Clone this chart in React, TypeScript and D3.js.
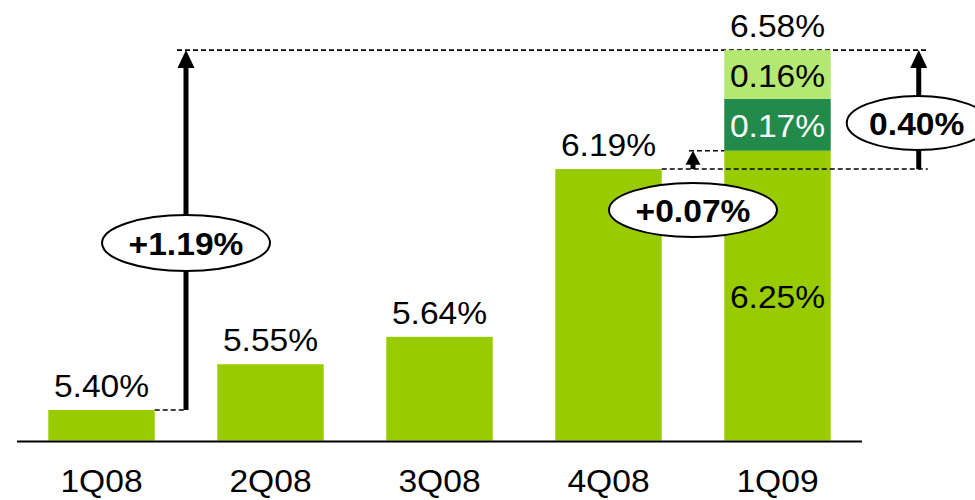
import React from "react";
import * as d3 from "d3";

const categories = ["1Q08", "2Q08", "3Q08", "4Q08", "1Q09"];
const baseValues = [5.4, 5.55, 5.64, 6.19, 6.25];
const baseLabels = ["5.40%", "5.55%", "5.64%", "6.19%", "6.25%"];
const stackCategory = "1Q09";
const stackValues = [0.17, 0.16];
const stackLabels = ["0.17%", "0.16%"];
const totalLabel = "6.58%";
const deltaLabels = ["+1.19%", "+0.07%", "0.40%"];

const W = 975;
const H = 500;
const FONT = "'Liberation Sans', Arial, sans-serif";
const GREEN = "#99CC00";
const SEG_COLORS = ["#228B4B", "#B3E873"];
const SEG_TEXT = ["#FFFFFF", "#000000"];

function T({ x, y, children, size = 32, bold = false, fill = "#000" }: any) {
  return (
    <text
      transform={`translate(${x},${y}) scale(1.05,1)`}
      textAnchor="middle"
      fontFamily={FONT}
      fontSize={size}
      fontWeight={bold ? "bold" : "normal"}
      fill={fill}
    >
      {children}
    </text>
  );
}

function Arrow({ x, y1, y2, head = 17, headH = 18, w = 5 }: any) {
  return (
    <g>
      <line x1={x} x2={x} y1={y1} y2={y2 + headH - 1} stroke="#000" strokeWidth={w} />
      <path d={`M${x},${y2} L${x - head / 2},${y2 + headH} L${x + head / 2},${y2 + headH} Z`} fill="#000" />
    </g>
  );
}

export default function App() {
  const x = d3.scaleBand<string>().domain(categories).range([17, 862]).paddingInner(0.37).paddingOuter(0.185);
  const y = d3.scaleLinear().domain([5.3, 6.6]).range([440.5, 44]);
  const bw = x.bandwidth();
  const step = x.step();
  const y0 = y(5.3);

  const si = categories.indexOf(stackCategory);
  let acc = baseValues[si];
  const segs = stackValues.map((v, i) => {
    const s = { start: acc, end: acc + v, color: SEG_COLORS[i], label: stackLabels[i], tc: SEG_TEXT[i] };
    acc += v;
    return s;
  });
  const total = acc;

  const xs = x(stackCategory)!;
  const xFirst = x(categories[0])!;
  const x4 = x(categories[3])!;
  const a1x = xFirst + bw + (step - bw) / 2;
  const a2x = x4 + bw + (step - bw) / 2;
  const a3x = xs + bw + 88;

  const yTot = y(total);
  const y4 = y(baseValues[3]);
  const yBase = y(baseValues[si]);
  const y1 = y(baseValues[0]);

  const dash = { stroke: "#000", strokeWidth: 1.6, strokeDasharray: "5,3" };

  return (
    <svg width={W} height={H} style={{ position: "absolute", left: 0, top: 0, background: "#fff" }}>
      <line x1={a1x - 9} x2={a3x + 9} y1={yTot} y2={yTot} {...dash} />
      {categories.map((c, i) => (
        <rect key={c} x={x(c)} y={y(baseValues[i])} width={bw} height={y0 - y(baseValues[i])} fill={GREEN} />
      ))}
      {segs.map((s, i) => (
        <rect key={i} x={xs} y={y(s.end)} width={bw} height={y(s.start) - y(s.end)} fill={s.color} />
      ))}
      <line x1={17} x2={862} y1={441.5} y2={441.5} stroke="#000" strokeWidth={2} />
      {categories.map((c, i) =>
        c === stackCategory ? (
          <T key={c} x={x(c)! + bw / 2} y={(yBase + y0) / 2 + 12}>{baseLabels[i]}</T>
        ) : (
          <T key={c} x={x(c)! + bw / 2} y={y(baseValues[i]) - 13}>{baseLabels[i]}</T>
        )
      )}
      {segs.map((s, i) => (
        <T key={i} x={xs + bw / 2} y={(y(s.start) + y(s.end)) / 2 + 12} fill={s.tc}>{s.label}</T>
      ))}
      <T x={xs + bw / 2} y={yTot - 13}>{totalLabel}</T>
      {categories.map((c) => (
        <T key={c} x={x(c)! + bw / 2} y={492}>{c}</T>
      ))}
      <line x1={xFirst + bw} x2={a1x} y1={y1} y2={y1} {...dash} />
      <line x1={x4 + bw} x2={a3x + 9} y1={y4} y2={y4} {...dash} />
      <line x1={a2x - 4} x2={xs} y1={yBase} y2={yBase} {...dash} />
      <Arrow x={a1x} y1={y1} y2={yTot} />
      <Arrow x={a2x} y1={y4} y2={yBase} head={15} headH={14} />
      <Arrow x={a3x} y1={y4} y2={yTot} />
      <ellipse cx={a1x} cy={243} rx={84} ry={28} fill="#fff" stroke="#000" strokeWidth={2} />
      <T x={a1x} y={255} bold>{deltaLabels[0]}</T>
      <ellipse cx={a2x} cy={210} rx={84} ry={27} fill="#fff" stroke="#000" strokeWidth={2} />
      <T x={a2x} y={222} bold>{deltaLabels[1]}</T>
      <ellipse cx={a3x - 1} cy={123} rx={71} ry={27} fill="#fff" stroke="#000" strokeWidth={2} />
      <T x={a3x - 2} y={135} bold>{deltaLabels[2]}</T>
    </svg>
  );
}
